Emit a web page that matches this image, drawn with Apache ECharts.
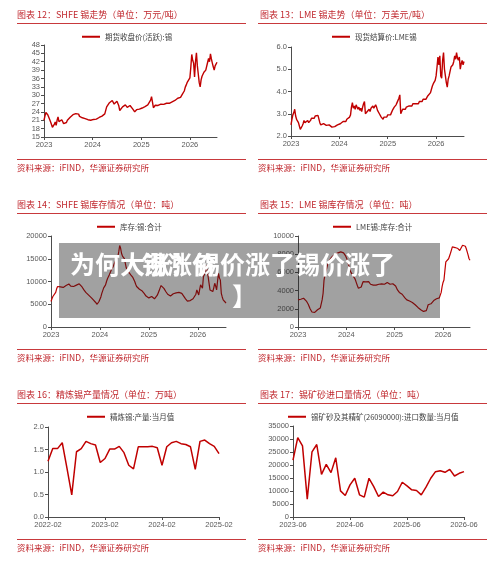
<!DOCTYPE html>
<html><head><meta charset="utf-8">
<script src="https://cdn.jsdelivr.net/npm/echarts@6/dist/echarts.min.js"></script>
<style>html,body{margin:0;padding:0;background:#fff}#c{width:500px;height:563px}</style>
</head><body><div id="c"></div>
<script>
// ---------- DATA ----------
const yearTicks = [2023, 2024, 2025, 2026];
// weekly, starting 2023-01
const shfePrice = [21.0,22.5,23.8,23.5,23.0,22.2,21.5,20.5,19.5,18.5,18.2,19.5,20.4,19.2,21.0,22.2,20.5,19.8,20.6,21.2,20.8,19.8,20.2,19.8,20.2,21.0,21.6,21.4,22.1,22.6,22.4,23.0,23.3,23.6,23.4,23.7,23.5,23.2,22.4,21.8,22.2,21.9,22.3,22.0,21.6,22.0,21.5,21.2,20.6,20.5,21.0,20.8,
21.1,21.3,21.0,21.5,21.4,21.9,21.6,22.0,22.3,22.0,22.5,22.8,22.9,23.3,23.8,25.8,26.5,26.0,27.3,27.8,27.2,28.1,27.4,26.8,27.5,26.6,27.8,28.0,26.2,24.5,25.0,24.6,25.8,26.3,25.9,26.5,26.0,25.6,26.0,25.8,26.3,26.0,25.7,25.0,24.5,24.0,24.4,24.8,24.5,24.9,25.0,24.7,
25.1,25.4,25.2,25.6,25.9,26.2,26.0,26.5,27.0,27.2,28.2,29.5,28.8,25.5,25.8,26.4,26.0,26.5,26.3,26.6,26.4,26.8,26.6,26.9,26.7,27.0,26.8,27.1,27.0,27.3,27.1,27.4,27.3,27.6,27.9,27.7,28.1,28.6,28.3,28.9,29.1,29.4,29.2,29.8,30.4,30.9,31.5,32.8,
33.6,34.5,34.0,35.0,36.2,40.0,44.6,42.5,41.5,36.5,42.0,45.2,40.5,37.5,34.5,33.0,35.5,36.8,37.5,38.2,38.0,39.0,39.4,41.8,43.2,42.0,44.8,43.0,41.5,40.2,39.0,40.5,41.0,41.8];
const lmePrice = [2.50,2.75,2.95,3.05,3.20,2.90,2.75,2.70,2.60,2.45,2.30,2.35,2.45,2.55,2.70,2.60,2.65,2.55,2.70,2.60,2.55,2.70,2.80,2.75,2.85,2.80,2.90,2.92,2.88,2.93,2.85,2.60,2.50,2.58,2.52,2.56,2.50,2.55,2.48,2.52,2.45,2.50,2.42,2.46,2.40,2.45,2.38,2.42,2.35,2.45,2.50,2.45,
2.52,2.55,2.60,2.55,2.65,2.60,2.70,2.65,2.75,2.80,2.78,2.85,2.95,3.30,3.50,3.25,3.35,3.20,3.40,3.30,3.20,3.30,3.15,3.25,3.10,3.30,3.45,3.55,3.00,2.95,3.10,3.15,3.20,3.10,3.25,3.30,3.35,3.25,3.30,3.40,3.30,3.15,3.10,3.00,2.95,2.85,2.80,2.75,2.85,2.80,2.90,2.85,
2.95,2.90,3.00,2.95,3.05,3.15,3.20,3.30,3.25,3.40,3.50,3.45,3.70,3.85,3.00,3.10,3.20,3.15,3.25,3.20,3.30,3.25,3.30,3.35,3.30,3.40,3.35,3.45,3.40,3.50,3.45,3.40,3.50,3.45,3.55,3.50,3.60,3.55,3.65,3.70,3.60,3.65,3.70,3.80,3.75,3.85,3.95,4.10,
4.25,4.35,4.30,4.50,4.70,5.10,5.55,5.20,5.60,4.70,4.60,5.40,5.75,5.00,4.70,4.40,4.20,4.55,4.70,4.90,5.10,5.05,5.20,5.35,5.60,5.45,5.75,5.50,5.40,5.55,5.00,5.25,5.40,5.20,5.35];
const shfeStock = [5600,6200,6700,6900,7050,7600,8400,8900,9100,9000,8800,8700,8900,8700,8900,9000,9100,9300,9200,9450,9300,9000,8900,9000,8900,9100,9000,9200,9400,9400,9500,9600,9300,8800,8400,8150,7900,7600,7400,7200,7000,6800,6700,6400,6100,5950,5700,5500,5200,5000,5300,5600,
5950,6600,7400,8000,8600,9000,9250,10000,10600,11050,11500,12000,12500,12900,13250,13800,14300,14800,15100,15400,16500,17900,17300,16150,15600,15300,15050,14000,13000,12600,12200,11900,11800,11400,11100,10900,10700,10000,9400,8900,8700,8500,8300,8150,8000,7900,7800,7400,7000,6800,6700,6500,
6400,6300,6500,6700,6800,6700,6200,5950,6500,7000,7400,8000,8600,9100,9250,8900,8500,8150,7800,7500,7200,7050,6900,6800,6840,7100,7300,7500,7560,7500,7300,7400,7600,7500,7300,7400,7100,6800,6550,6200,5900,5700,5600,5700,5800,5950,6100,6200,
6300,6500,7200,8150,7600,7050,8200,9250,9000,8500,11050,11500,11800,13500,12300,11050,9600,8150,8400,8500,7800,8600,9600,9000,8150,10000,11800,10800,10300,7400,6600,5950,5700,5500,5250];
const lmeStock = [2980,3100,3160,3050,3200,3150,3160,3100,2980,2850,2700,2500,2300,2000,1820,1650,1550,1530,1600,1710,1800,1900,1960,2050,2100,2180,3000,3710,5160,5700,6100,6500,6900,7160,7300,7500,7700,7750,7800,7900,8000,8050,8070,8150,8250,8300,8250,8200,8150,8150,8000,7850,
7700,7400,7000,6600,6250,6000,5800,5650,5500,5350,5100,4800,4500,4250,4150,4070,4400,4700,4980,4900,5000,4950,4900,4850,4980,4800,4700,4620,4700,4600,4500,4440,4600,4500,4620,4700,4650,4750,4730,4600,4800,4700,4800,4750,4900,4730,4800,4700,4850,4870,4750,4800,
4620,4500,4300,4070,3900,3800,3710,3650,3600,3530,3400,3200,3050,2980,2950,2900,2850,2800,2750,2700,2620,2550,2450,2350,2250,2150,2050,1960,1900,1800,1750,1710,1650,1710,1800,2100,2440,2600,2500,2550,2620,2750,2900,2980,3050,3100,3160,3100,
3200,3160,3800,4440,4900,5160,6200,7160,7340,7300,7500,7700,8100,8440,8800,8980,8900,8730,8800,8700,8620,8500,8400,8250,8600,8980,9000,8900,8870,8600,8250,7900,7500,7340];
const months16 = ['2022-02','2022-03','2022-04','2022-05','2022-06','2022-07','2022-08','2022-09','2022-10','2022-11','2022-12','2023-01','2023-02','2023-03','2023-04','2023-05','2023-06','2023-07','2023-08','2023-09','2023-10','2023-11','2023-12','2024-01','2024-02','2024-03','2024-04','2024-05','2024-06','2024-07','2024-08','2024-09','2024-10','2024-11','2024-12','2025-01','2025-02'];
const refinedOutput = [1.24,1.52,1.52,1.65,1.08,0.49,1.45,1.52,1.68,1.63,1.60,1.21,1.30,1.51,1.51,1.57,1.43,1.15,1.07,1.56,1.56,1.56,1.57,1.54,1.15,1.56,1.65,1.68,1.63,1.61,1.56,1.06,1.68,1.71,1.63,1.57,1.41];
const months17 = ['2023-06','2023-07','2023-08','2023-09','2023-10','2023-11','2023-12','2024-01','2024-02','2024-03','2024-04','2024-05','2024-06','2024-07','2024-08','2024-09','2024-10','2024-11','2024-12','2025-01','2025-02','2025-03','2025-04','2025-05','2025-06','2025-07','2025-08','2025-09','2025-10','2025-11','2025-12','2026-01','2026-02','2026-03','2026-04','2026-05','2026-06'];
const oreImports = [21900,30550,27370,6870,25080,27880,16420,20240,17060,22790,10060,8280,12350,14900,8530,7640,14900,11710,7890,9550,8530,8150,9800,13370,11970,10440,10180,8530,11460,14900,17440,17820,17180,18330,15780,16800,17440];

const titles = ['图表 12：SHFE 锡走势（单位：万元/吨）','图表 13：LME 锡走势（单位：万美元/吨）','图表 14：SHFE 锡库存情况（单位：吨）','图表 15：LME 锡库存情况（单位：吨）','图表 16：精炼锡产量情况（单位：万吨）','图表 17：锡矿砂进口量情况（单位：吨）'];
const seriesNames = ['期货收盘价(活跃):锡','现货结算价:LME锡','库存:锡:合计','LME锡:库存:合计','精炼锡:产量:当月值','锡矿砂及其精矿(26090000):进口数量:当月值'];
const sourceText = '资料来源：iFIND，华源证券研究所';
const overlayMain = '为何大涨？锡价涨了锡价涨了';
const overlayGhost = '锡涨价';
const overlayTail = '】';

// ---------- CHART ----------
const weekly = arr => arr.map((v, i) => [2023 + i / 52, v]);
const RED = '#c00000';
const TXT_RED = '#c0282e';
const AX = '#4d4d4d';

const grids = [
  {left:44, top:45, width:173, height:92},
  {left:291, top:47, width:173, height:89},
  {left:51, top:236, width:175, height:91},
  {left:298, top:236, width:172, height:91},
  {left:48, top:427, width:171, height:90},
  {left:293, top:426, width:171, height:91}
];
const baseAxis = {
  axisLine:{show:true, lineStyle:{color:AX, width:1}},
  axisTick:{show:true, length:3, lineStyle:{color:AX}},
  axisLabel:{color:'#595959', fontSize:7.5, fontFamily:'Liberation Sans', margin:4},
  splitLine:{show:false}
};
function timeX(gi, max){
  return Object.assign({}, baseAxis, {
    type:'value', gridIndex:gi, min:2023, max:max, interval:1,
    axisTick:Object.assign({}, baseAxis.axisTick, {customValues:yearTicks}),
    axisLabel:Object.assign({}, baseAxis.axisLabel, {customValues:yearTicks, formatter: v => String(Math.round(v))})
  });
}
function catX(gi, cats){
  return Object.assign({}, baseAxis, {
    type:'category', gridIndex:gi, data:cats, boundaryGap:false,
    axisTick:Object.assign({}, baseAxis.axisTick, {interval:11}),
    axisLabel:Object.assign({}, baseAxis.axisLabel, {interval:11})
  });
}
function valY(gi, min, max, interval, dec){
  return Object.assign({}, baseAxis, {
    type:'value', gridIndex:gi, min:min, max:max, interval:interval,
    axisLabel:Object.assign({}, baseAxis.axisLabel, {formatter: v => dec ? v.toFixed(dec) : String(v)})
  });
}
function ser(i, data, w){
  return {type:'line', name:seriesNames[i], xAxisIndex:i, yAxisIndex:i, data:data,
    showSymbol:false, symbol:'none', lineStyle:{color:RED, width:w}, itemStyle:{color:RED}, z:3};
}
const legendPos = [[82,33],[332,33],[97,223],[333,223],[87,413],[288,413]];
const legends = seriesNames.map((n, i) => ({
  data:[n], left:legendPos[i][0], top:legendPos[i][1], icon:'rect', itemWidth:18, itemHeight:2,
  padding:0, textStyle:{fontSize:7.5, color:'#404040', fontFamily:'Noto Sans CJK SC'}, selectedMode:false
}));

const panelX = [17, 258];
const panelRows = [[15, 23, 159, 168], [205, 213, 349, 358], [395, 403, 539, 548]];
const graphics = [];
titles.forEach((t, i) => {
  const col = i % 2, row = Math.floor(i / 2);
  const x0 = panelX[col], r = panelRows[row];
  graphics.push({type:'text', style:{text:t, x: col ? 260 : 17, y:r[0], fill:TXT_RED, fontSize:9, fontFamily:'Noto Sans CJK SC', verticalAlign:'middle'}});
  graphics.push({type:'line', shape:{x1:x0, y1:r[1]+0.5, x2:x0+229, y2:r[1]+0.5}, style:{stroke:'#c8393c', lineWidth:1}});
  graphics.push({type:'line', shape:{x1:x0, y1:r[2]+0.5, x2:x0+229, y2:r[2]+0.5}, style:{stroke:'#c8393c', lineWidth:1}});
  graphics.push({type:'text', style:{text:sourceText, x:x0, y:r[3], fill:TXT_RED, fontSize:8.5, fontFamily:'Noto Sans CJK SC', verticalAlign:'middle'}});
});
graphics.push({type:'rect', z:100, shape:{x:59, y:243, width:381, height:75}, style:{fill:'rgba(30,30,30,0.42)'}});
graphics.push({type:'text', z:101, style:{text:overlayMain, x:70, y:264, fill:'#ffffff', fontSize:25, fontWeight:'bold', fontFamily:'Noto Sans CJK SC', verticalAlign:'middle'}});
graphics.push({type:'text', z:101, style:{text:overlayGhost, x:142, y:264, fill:'#ffffff', fontSize:25, fontWeight:'bold', fontFamily:'Noto Sans CJK SC', verticalAlign:'middle'}});
graphics.push({type:'text', z:101, style:{text:overlayTail, x:232, y:296, fill:'#ffffff', fontSize:25, fontWeight:'bold', fontFamily:'Noto Sans CJK SC', verticalAlign:'middle'}});

const chart = echarts.init(document.getElementById('c'), null, {renderer:'canvas'});
chart.setOption({
  animation:false,
  backgroundColor:'#ffffff',
  textStyle:{fontFamily:'Liberation Sans, Noto Sans CJK SC'},
  grid:grids,
  legend:legends,
  xAxis:[timeX(0, 2023 + 185/52), timeX(1, 2023 + 186/52), timeX(2, 2023 + 186/52), timeX(3, 2023 + 185/52), catX(4, months16), catX(5, months17)],
  yAxis:[valY(0, 15, 48, 3), valY(1, 2, 6, 1, 1), valY(2, 0, 20000, 5000), valY(3, 0, 10000, 2000), valY(4, 0, 2, 0.5, 1), valY(5, 0, 35000, 5000)],
  series:[ser(0, weekly(shfePrice), 1.4), ser(1, weekly(lmePrice), 1.4), ser(2, weekly(shfeStock), 1.2), ser(3, weekly(lmeStock), 1.2), ser(4, refinedOutput, 1.5), ser(5, oreImports, 1.5)],
  graphic:graphics
});
</script>
</body></html>
